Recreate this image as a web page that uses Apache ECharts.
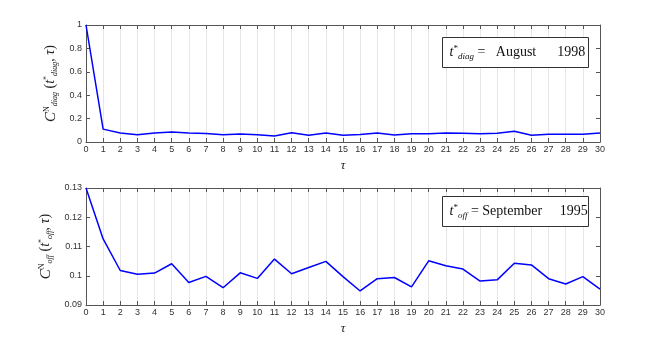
<!DOCTYPE html>
<html lang="en">
<head>
    <meta charset="UTF-8">
    <title>Normalized correlation</title>
    <script src="https://cdn.jsdelivr.net/npm/echarts@6/dist/echarts.min.js"></script>
    <style>
        html, body { margin: 0; padding: 0; background: #fff; }
        #main { width: 664px; height: 343px; }
    </style>
</head>
<body>
    <div id="main"></div>
<script>
    // lags tau = 0..30
    var tau = [0, 1, 2, 3, 4, 5, 6, 7, 8, 9, 10, 11, 12, 13, 14, 15, 16, 17, 18, 19, 20, 21, 22, 23, 24, 25, 26, 27, 28, 29, 30];
    // C_diag for August 1998
    var diagVals = [1, 0.11, 0.077, 0.063, 0.077, 0.085, 0.076, 0.072, 0.062, 0.068, 0.061, 0.051, 0.08, 0.057, 0.077,
        0.057, 0.065, 0.077, 0.06, 0.071, 0.071, 0.077, 0.074, 0.071, 0.074, 0.091, 0.057, 0.066, 0.066, 0.067, 0.077];
    // C_off for September 1995
    var offVals = [0.13, 0.1126, 0.1018, 0.1005, 0.1009, 0.1041, 0.0977, 0.0998, 0.0959, 0.1010, 0.0991, 0.1057, 0.1007, 0.1028, 0.1049,
        0.0997, 0.0948, 0.0990, 0.0994, 0.0962, 0.1051, 0.1034, 0.1023, 0.0982, 0.0986, 0.1043, 0.1037, 0.0990, 0.0972, 0.0997, 0.0954];
    var diagTicks = [0, 0.2, 0.4, 0.6, 0.8, 1];
    var offTicks = [0.09, 0.10, 0.11, 0.12, 0.13];

    var axisCol = '#555';
    var labelCol = '#333';
    var serif = 'Liberation Serif';

    function pairs(ys) {
        return tau.map(function (t, i) { return [t, ys[i]]; });
    }

    function xAx(idx, pos, show) {
        return {
            type: 'value', gridIndex: idx, position: pos, min: 0, max: 30, interval: 1,
            axisLine: { show: true, onZero: false, lineStyle: { color: axisCol, width: 1 } },
            axisTick: { show: true, inside: true, length: 4, lineStyle: { color: axisCol } },
            axisLabel: { show: show, color: labelCol, fontSize: 9, fontFamily: 'Liberation Sans', margin: 3 },
            splitLine: { show: show, lineStyle: { color: '#e6e6e6', width: 1 } },
            name: show ? 'τ' : '', nameLocation: 'middle', nameGap: 17,
            nameTextStyle: { fontFamily: serif, fontStyle: 'italic', fontSize: 13, color: '#222' }
        };
    }

    function yAx(idx, pos, show, mn, mx, step, ticks, nm, gap) {
        return {
            type: 'value', gridIndex: idx, position: pos, min: mn, max: mx, interval: step,
            axisLine: { show: true, onZero: false, lineStyle: { color: axisCol, width: 1 } },
            axisTick: { show: true, inside: true, length: 4, lineStyle: { color: axisCol } },
            axisLabel: {
                show: show, color: labelCol, fontSize: 9, fontFamily: 'Liberation Sans', margin: 4,
                formatter: function (v) {
                    var best = ticks.reduce(function (a, b) { return Math.abs(b - v) < Math.abs(a - v) ? b : a; });
                    return String(+best.toFixed(2));
                }
            },
            splitLine: { show: false },
            name: show ? nm : '', nameLocation: 'middle', nameRotate: 90, nameGap: gap,
            nameTextStyle: {
                color: '#222', fontFamily: serif, fontSize: 14,
                rich: {
                    c: { fontFamily: serif, fontStyle: 'italic', fontSize: 15, color: '#222' },
                    sup: { fontFamily: serif, fontSize: 8, verticalAlign: 'top', padding: [0, 0, 8, 0], color: '#222' },
                    sub: { fontFamily: serif, fontStyle: 'italic', fontSize: 8, verticalAlign: 'bottom', padding: [6, 0, 0, 0], color: '#222' },
                    p: { fontFamily: serif, fontSize: 14, color: '#222' },
                    t: { fontFamily: serif, fontStyle: 'italic', fontSize: 14, color: '#222' }
                }
            }
        };
    }

    function box(top, month, gap, year, sub) {
        return {
            type: 'group', left: 442, top: top, z: 100,
            children: [
                { type: 'rect', z: 100, shape: { x: 0, y: 0, width: 146, height: 30 },
                  style: { fill: '#fff', stroke: '#333', lineWidth: 1 } },
                { type: 'text', z: 101, x: 7, y: 15,
                  style: {
                      text: '{t|t}{s|*}{b|' + sub + '}{p| = ' + month + '}{p|' + gap + year + '}',
                      verticalAlign: 'middle',
                      rich: {
                          t: { fontFamily: serif, fontStyle: 'italic', fontSize: 14, fill: '#111' },
                          s: { fontFamily: serif, fontSize: 9, padding: [0, 0, 8, 0], fill: '#111' },
                          b: { fontFamily: serif, fontStyle: 'italic', fontSize: 9, padding: [8, 0, 0, 0], fill: '#111' },
                          p: { fontFamily: serif, fontSize: 14, fill: '#111' }
                      }
                  } }
            ]
        };
    }

    var chart = echarts.init(document.getElementById('main'), null, { renderer: 'canvas' });

    var option = {
        animation: false,
        backgroundColor: '#fff',
        grid: [
            { left: 86, top: 25, width: 514, height: 117 },
            { left: 86, top: 188, width: 514, height: 117 }
        ],
        xAxis: [
            xAx(0, 'bottom', true), xAx(0, 'top', false),
            xAx(1, 'bottom', true), xAx(1, 'top', false)
        ],
        yAxis: [
            yAx(0, 'left', true, 0, 1, 0.2, diagTicks, '{c|C}{sup|N}{sub|diag}{p| (}{t|t}{sup|*}{sub|diag}{p|, }{t|τ}{p|)}', 22),
            yAx(0, 'right', false, 0, 1, 0.2, diagTicks, '', 0),
            yAx(1, 'left', true, 0.09, 0.13, 0.01, offTicks, '{c|C}{sup|N}{sub|off}{p| (}{t|t}{sup|*}{sub|off}{p|, }{t|τ}{p|)}', 27),
            yAx(1, 'right', false, 0.09, 0.13, 0.01, offTicks, '', 0)
        ],
        series: [
            { type: 'line', xAxisIndex: 0, yAxisIndex: 0, data: pairs(diagVals), showSymbol: false,
              lineStyle: { color: '#0000ff', width: 1.5 }, itemStyle: { color: '#0000ff' } },
            { type: 'line', xAxisIndex: 2, yAxisIndex: 2, data: pairs(offVals), showSymbol: false,
              lineStyle: { color: '#0000ff', width: 1.5 }, itemStyle: { color: '#0000ff' } }
        ],
        graphic: [
            box(37, '  August', '      ', '1998', 'diag'),
            box(196, 'September', '     ', '1995', 'off')
        ]
    };

    chart.setOption(option);
</script>
</body>
</html>
